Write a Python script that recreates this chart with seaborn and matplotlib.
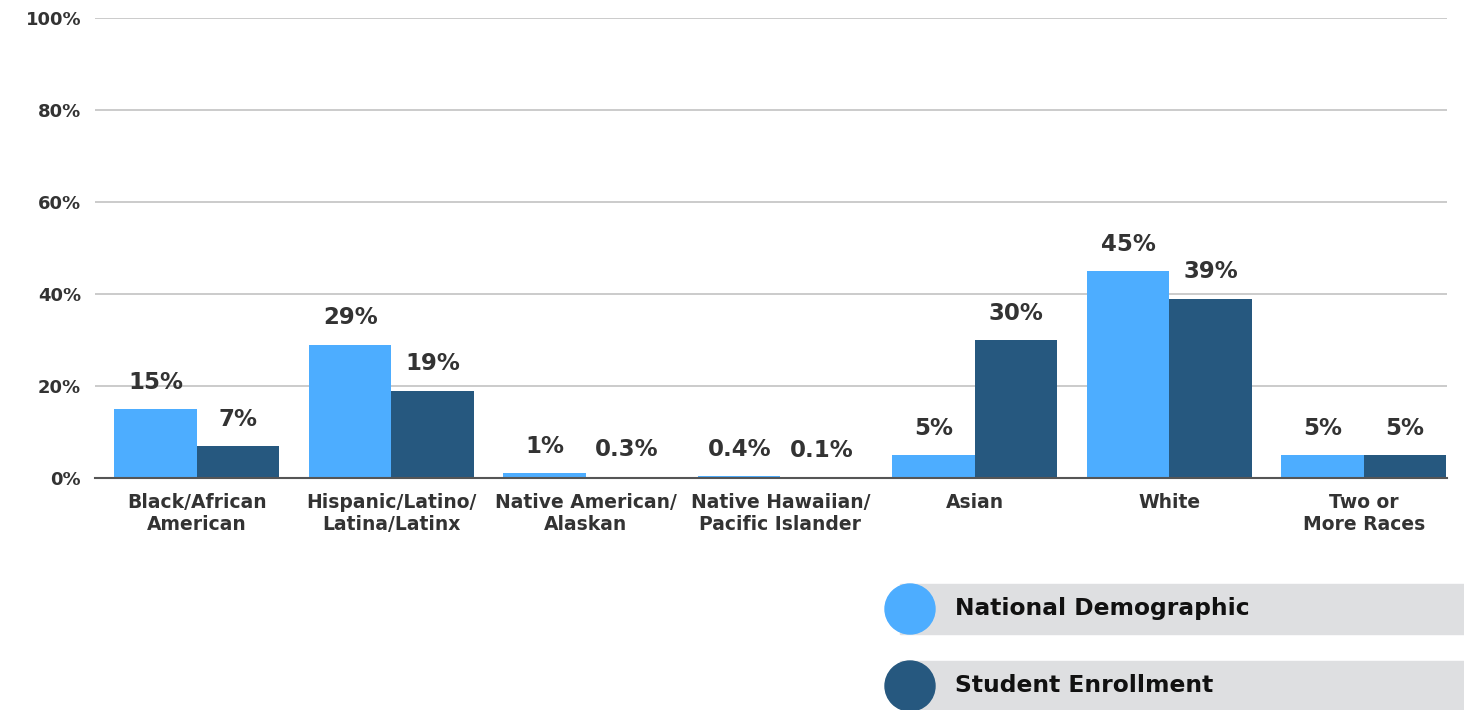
import pandas as pd
import seaborn as sns
import matplotlib.pyplot as plt
from matplotlib.patches import Rectangle, Circle

# chart data
categories = [
    "Black/African\nAmerican",
    "Hispanic/Latino/\nLatina/Latinx",
    "Native American/\nAlaskan",
    "Native Hawaiian/\nPacific Islander",
    "Asian",
    "White",
    "Two or\nMore Races",
]
national = [15, 29, 1, 0.4, 5, 45, 5]
enrollment = [7, 19, 0.3, 0.1, 30, 39, 5]
series_names = ["National Demographic", "Student Enrollment"]
series_colors = ["#4DADFF", "#26587F"]
y_ticks = [0, 20, 40, 60, 80, 100]


def build_frame():
    rows = []
    for cat, a, b in zip(categories, national, enrollment):
        rows.append({"category": cat, "series": series_names[0], "value": a})
        rows.append({"category": cat, "series": series_names[1], "value": b})
    return pd.DataFrame(rows)


def main():
    sns.set_style("white")
    plt.rcParams["font.family"] = ["DejaVu Sans"]
    text_col = "#333333"

    df = build_frame()
    fig = plt.figure(figsize=(14.64, 7.10), dpi=100)
    ax = fig.add_axes([95 / 1464, 232 / 710, 1352 / 1464, 460 / 710])

    sns.barplot(data=df, x="category", y="value", hue="series",
                palette=series_colors, width=0.848, saturation=1,
                linewidth=0, legend=False, ax=ax, zorder=3)

    for cont, vals in zip(ax.containers, [national, enrollment]):
        ax.bar_label(cont, labels=[f"{v:g}%" for v in vals], padding=11,
                     fontsize=16.5, fontweight="heavy", color=text_col)

    ax.set_ylim(0, 100)
    ax.set_xlim(-0.524, 6.427)
    ax.set_yticks(y_ticks)
    ax.set_yticklabels([f"{t}%" for t in y_ticks])
    ax.yaxis.grid(True, color="#c2c2c2", linewidth=1.2, zorder=0)
    ax.set_axisbelow(True)
    for s in ["top", "right", "left"]:
        ax.spines[s].set_visible(False)
    ax.spines["bottom"].set_color("#555555")
    ax.spines["bottom"].set_linewidth(1.5)
    ax.spines["bottom"].set_zorder(4)
    ax.tick_params(axis="both", length=0, labelcolor=text_col)
    ax.tick_params(axis="y", pad=10, labelsize=13)
    ax.tick_params(axis="x", pad=11, labelsize=13.5)
    for lbl in ax.get_xticklabels() + ax.get_yticklabels():
        lbl.set_fontweight("bold")
        lbl.set_linespacing(1.15)
    ax.set_xlabel("")
    ax.set_ylabel("")

    # legend drawn in pixel space
    lax = fig.add_axes([0, 0, 1, 1])
    lax.set_xlim(0, 1464)
    lax.set_ylim(710, 0)
    lax.axis("off")
    for i, (name, col) in enumerate(zip(series_names, series_colors)):
        yc = 609 + i * 77
        lax.add_patch(Rectangle((900, yc - 25), 600, 50, color="#DEDFE1", zorder=1))
        lax.add_patch(Circle((910, yc), 25, color=col, zorder=2))
        lax.text(955, yc, name, fontsize=16.8, fontweight="bold", color="#111111",
                 va="center", ha="left")

    fig.savefig("out.png", dpi=100)


if __name__ == "__main__":
    main()
